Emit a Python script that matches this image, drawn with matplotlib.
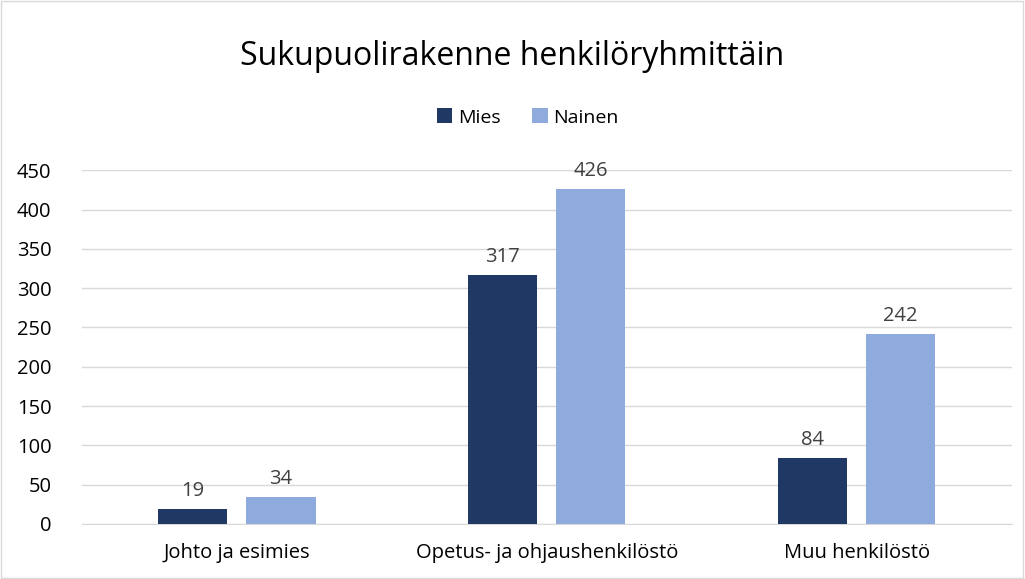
import numpy as np
import matplotlib.pyplot as plt
from matplotlib.patches import Rectangle

# data
categories = ["Johto ja esimies", "Opetus- ja ohjaushenkilöstö", "Muu henkilöstö"]
mies = [19, 317, 84]
nainen = [34, 426, 242]
yticks = list(range(0, 451, 50))

dark = "#203864"
light = "#8FAADC"

plt.rcParams['font.family'] = ['Open Sans', 'DejaVu Sans']

fig = plt.figure(figsize=(10.25, 5.79), dpi=100)
ax = fig.add_axes([0.080, 0.095, 0.907, 0.611])

x = np.arange(len(categories))
w = 0.223
off = 0.142
b1 = ax.bar(x - off, mies, w, color=dark, label="Mies", zorder=3)
b2 = ax.bar(x + off, nainen, w, color=light, label="Nainen", zorder=3)

# value labels above the bars
for bars in (b1, b2):
    for bar in bars:
        h = bar.get_height()
        ax.text(bar.get_x() + bar.get_width() / 2, h + 10, f"{int(h)}",
                ha="center", va="bottom", fontsize=14.5, color="#404040")

ax.set_xlim(-0.5, len(categories) - 0.5)
ax.set_ylim(0, 450)
ax.set_yticks(yticks)
ax.set_xticks(x)
ax.set_xticklabels(categories)
ax.tick_params(axis="both", length=0, labelsize=14.5, colors="#000000")
ax.tick_params(axis="y", pad=22)
ax.tick_params(axis="x", pad=14)
ax.yaxis.grid(True, color="#d9d9d9", linewidth=1, zorder=0)
for s in ["top", "right", "left"]:
    ax.spines[s].set_visible(False)
ax.spines["bottom"].set_color("#d9d9d9")

fig.text(0.5, 0.903, "Sukupuolirakenne henkilöryhmittäin", ha="center", va="center",
         fontsize=23, color="#000000")
fig.legend(loc="center", bbox_to_anchor=(0.515, 0.797), ncol=2, frameon=False,
           fontsize=14, handlelength=0.8, handleheight=0.8, columnspacing=1.6,
           handletextpad=0.3)

# light frame round the whole chart
fig.patches.append(Rectangle((0.001, 0.001), 0.997, 0.997, transform=fig.transFigure,
                             fill=False, edgecolor="#d9d9d9", linewidth=1))

fig.savefig("out.png", dpi=100)
